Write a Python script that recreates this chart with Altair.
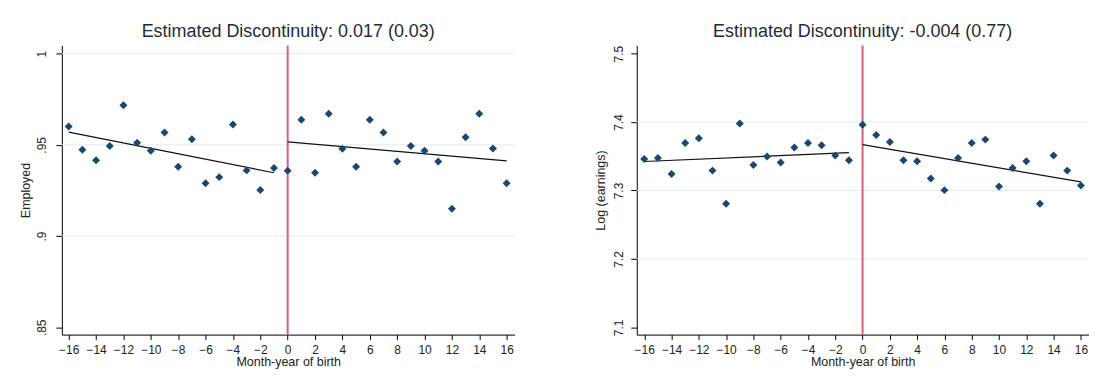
import altair as alt
import pandas as pd

FONT = "Liberation Sans"
TEXT_DARK = "#222222"
TITLE_COLOR = "#1f2b38"
MARKER = "#1a476f"
CUTOFF_COLOR = "#d4607c"
GRID_COLOR = "#e3ebee"

# Month-year of birth relative to the cutoff
months = list(range(-16, 17))

# Share employed, by month-year of birth
employed = [
    0.960, 0.9473, 0.9416, 0.9493, 0.9717, 0.9511, 0.9467, 0.9568,
    0.938, 0.953, 0.929, 0.9323, 0.9612, 0.936, 0.9252, 0.9373,
    0.9358, 0.9637, 0.9347, 0.967, 0.9478, 0.938, 0.9637, 0.9568,
    0.9409, 0.9493, 0.9467, 0.9409, 0.915, 0.9542, 0.967, 0.948, 0.929,
]

# Mean log earnings, by month-year of birth
log_earnings = [
    7.346, 7.3475, 7.324, 7.3694, 7.3762, 7.329, 7.2805, 7.398,
    7.3373, 7.3495, 7.3408, 7.3627, 7.3694, 7.366, 7.351, 7.3442,
    7.3962, 7.381, 7.3709, 7.3442, 7.3427, 7.3175, 7.3005, 7.3475,
    7.3694, 7.3743, 7.3058, 7.333, 7.3427, 7.2805, 7.351, 7.329, 7.3073,
]

# Fitted lines on each side of the cutoff (end points)
fit_months = [-16, -1, 0, 16]
fit_side = ["before", "before", "after", "after"]
employed_fit = [0.957, 0.9347, 0.9516, 0.9412]
log_earnings_fit = [7.3423, 7.3554, 7.367, 7.3125]

cutoff = [0]
x_ticks = list(range(-16, 17, 2))

employed_ticks = [0.85, 0.9, 0.95, 1.0]
employed_grid = [0.9, 0.95, 1.0]
log_earnings_ticks = [7.1, 7.2, 7.3, 7.4, 7.5]
log_earnings_grid = [7.2, 7.3, 7.4]


def panel(values, fit, ticks, grid, y_domain, x_domain, label_expr,
          y_title, title, width, label_pad, title_pad):
    points = pd.DataFrame({"month": months, "value": values})
    fit_df = pd.DataFrame({"month": fit_months, "value": fit, "side": fit_side})
    grid_df = pd.DataFrame({"value": grid})
    cut_df = pd.DataFrame({"month": cutoff})

    x = alt.X(
        "month:Q",
        scale=alt.Scale(domain=x_domain, nice=False, zero=False),
        axis=alt.Axis(
            values=x_ticks, format="d", title="Month-year of birth",
            grid=False, domainColor="black", tickColor="black",
            tickSize=5, labelPadding=5, labelFont=FONT, labelFontSize=12,
            labelColor=TEXT_DARK, labelFlush=False, labelOverlap=False,
            titleFont=FONT, titleFontSize=12.5, titleFontWeight="normal",
            titleColor=TEXT_DARK, titlePadding=0,
        ),
    )
    y = alt.Y(
        "value:Q",
        scale=alt.Scale(domain=y_domain, nice=False, zero=False),
        axis=alt.Axis(
            values=ticks, labelExpr=label_expr, title=y_title, grid=False,
            domainColor="black", tickColor="black", tickSize=6,
            labelAngle=270, labelAlign="center", labelBaseline="alphabetic",
            labelPadding=label_pad, labelFont=FONT, labelFontSize=12,
            labelColor=TEXT_DARK, labelFlush=False, labelOverlap=False,
            titleFont=FONT, titleFontSize=12.5, titleFontWeight="normal",
            titleColor=TEXT_DARK, titlePadding=title_pad,
        ),
    )

    grid_layer = alt.Chart(grid_df).mark_rule(
        color=GRID_COLOR, strokeWidth=1
    ).encode(y=y)
    cut_layer = alt.Chart(cut_df).mark_rule(
        color=CUTOFF_COLOR, strokeWidth=2
    ).encode(x=x)
    fit_layer = alt.Chart(fit_df).mark_line(
        color="#111111", strokeWidth=1.2
    ).encode(x=x, y=y, detail="side:N")
    point_layer = alt.Chart(points).mark_point(
        shape="diamond", filled=True, size=64, color=MARKER, opacity=1
    ).encode(x=x, y=y)

    return alt.layer(grid_layer, cut_layer, fit_layer, point_layer).properties(
        width=width,
        height=290,
        title=alt.TitleParams(
            title, font=FONT, fontSize=18, fontWeight="normal",
            color=TITLE_COLOR, anchor="middle", frame="group",
            baseline="alphabetic", offset=-10.5,
        ),
    )


left = panel(
    employed, employed_fit, employed_ticks, employed_grid,
    [0.846, 1.0045], [-16.5, 16.58],
    "datum.value == 1 ? '1' : replace(format(datum.value, '.2~f'), '0.', '.')",
    "Employed", "Estimated Discontinuity: 0.017 (0.03)", 454, 10, 3,
)
right = panel(
    log_earnings, log_earnings_fit, log_earnings_ticks, log_earnings_grid,
    [7.0894, 7.512], [-16.55, 16.56],
    "format(datum.value, '.1f')",
    "Log (earnings)", "Estimated Discontinuity: -0.004 (0.77)", 453, 8, 5,
)

chart = alt.hconcat(left, right, spacing=122.5, bounds="flush").properties(
    padding={"left": 20, "top": 22, "right": 5, "bottom": 5},
    background="white",
).configure_view(stroke=None)

chart.save("out.html", embed_options={"renderer": "svg", "actions": False})
